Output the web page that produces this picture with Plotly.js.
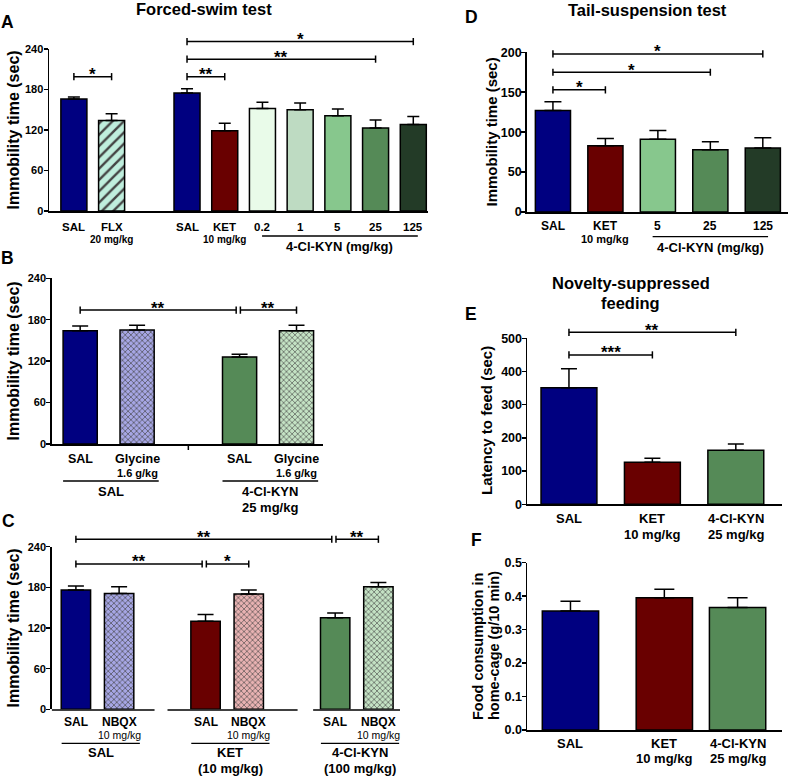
<!DOCTYPE html>
<html><head><meta charset="utf-8">
<script src="https://cdn.plot.ly/plotly-3.0.1.min.js"></script>
<style>html,body{margin:0;padding:0;background:#fff}#chart{width:792px;height:777px}</style>
</head><body><div id="chart"></div>
<script>
// ================= DATA =================
// Panel A – Forced-swim test
const catA  = ['SAL','FLX','SAL','KET','0.2','1','5','25','125'];
const doseA = ['','20 mg/kg','','10 mg/kg','','','','',''];
const meanA = [166,134,175,119,152,150,141,123,128];
const semA  = [3,10,6,11,9,10,10,12,12];
const grpA  = [['4-Cl-KYN (mg/kg)',4,8]];
const sigA  = [[0,1,199,'*'],[2,3,199,'**'],[2,7,225,'**'],[2,8,251,'*']];

// Panel B – Glycine
const catB  = ['SAL','Glycine','SAL','Glycine'];
const doseB = ['','1.6 g/kg','','1.6 g/kg'];
const meanB = [164,165,126,164];
const semB  = [7,7,4,8];
const grpB  = [['SAL',0,1],['4-Cl-KYN\n25 mg/kg',2,3]];
const sigB  = [[0,2,194,'**'],[2,3,194,'**']];

// Panel C – NBQX
const catC  = ['SAL','NBQX','SAL','NBQX','SAL','NBQX'];
const doseC = ['','10 mg/kg','','10 mg/kg','','10 mg/kg'];
const meanC = [176,171,130,170,135,181];
const semC  = [6,10,10,6,7,6];
const grpC  = [['SAL',0,1],['KET\n(10 mg/kg)',2,3],['4-Cl-KYN\n(100 mg/kg)',4,5]];
const sigC  = [[0,4,251,'**'],[4,5,251,'**'],[0,2,214.5,'**'],[2,3,214.5,'*']];

// Panel D – Tail-suspension test
const catD  = ['SAL','KET','5','25','125'];
const doseD = ['','10 mg/kg','','',''];
const meanD = [127,83,91,78,80];
const semD  = [11,9,11,10,13];
const grpD  = [['4-Cl-KYN (mg/kg)',2,4]];
const sigD  = [[0,1,153,'*'],[0,3,175,'*'],[0,4,198,'*']];

// Panel E – Novelty-suppressed feeding
const catE  = ['SAL','KET','4-Cl-KYN'];
const doseE = ['','10 mg/kg','25 mg/kg'];
const meanE = [351,127,163];
const semE  = [57,12,19];
const sigE  = [[0,1,450,'***'],[0,2,518,'**']];

// Panel F – Home-cage food consumption
const catF  = ['SAL','KET','4-Cl-KYN'];
const doseF = ['','10 mg/kg','25 mg/kg'];
const meanF = [0.356,0.395,0.366];
const semF  = [0.029,0.026,0.029];

// Titles
const titleA = ['Forced-swim test'];
const titleD = ['Tail-suspension test'];
const titleE = ['Novelty-suppressed','feeding'];
const yTitleImm  = ['Immobility time (sec)'];
const yTitleLat  = ['Latency to feed (sec)'];
const yTitleFood = ['Food consumption in','home-cage (g/10 min)'];

// ================= STYLE / LAYOUT =================
const W = 792, H = 777;
const px = x => x / W, py = y => 1 - y / H;
const FONT = 'Liberation Sans, Arial, Helvetica, sans-serif';
const NAVY = '#000080', MAROON = '#690000', GREEN = '#558a57';
const G02 = '#e9fbe9', G1 = '#bedbc2', G5 = '#87c78d', G125 = '#233b27';

// fills: base colour + optional overlay pattern
const hatchFLX = {color:'#bfeedd', shape:'/', fg:'#000000', size:8, sol:0.3};
const chkBlue  = {color:'#a6a6e4', shape:'x', fg:'#1e1e96', size:4, sol:0.3};
const chkRed   = {color:'#e8b2b2', shape:'x', fg:'#8b1a1a', size:4, sol:0.28};
const chkGreen = {color:'#c4e2c4', shape:'x', fg:'#3f7f46', size:4, sol:0.28};
const solid = c => ({color:c, shape:'', fg:c, size:8, sol:0.3});

function pat(list){
  return {
    color: list.map(d => d.color),
    shape: list.map(d => d.shape),
    fg: list.map(d => d.fg),
    size: list.map(d => d.size),
    sol: list.map(d => d.sol)
  };
}

const panels = [
  {cat:catA, dose:doseA, mean:meanA, sem:semA, grp:grpA, sig:sigA,
   pos:[0,1,3,4,5,6,7,8,9], xr:[-0.66,9.39], bw:0.69, box:[49,428,49,211], yr:[0,240], dt:60,
   tick:11, tso:-2, cap:6, main:[11.5,16], sub:[10,28.5,'bold'], ul:[25,-0.01,0.12], gl:[13,36,15],
   style:pat([solid(NAVY),hatchFLX,solid(NAVY),solid(MAROON),
              solid(G02),solid(G1),solid(G5),solid(GREEN),solid(G125)])},
  {cat:catB, dose:doseB, mean:meanB, sem:semB, grp:grpB, sig:sigB,
   pos:[0,1,2.8,3.8], xr:[-0.5,4.26], bw:0.6, box:[51.7,322.7,278.3,444], yr:[0,240], dt:60,
   tick:11, tso:-2, cap:8, main:[12.5,15], sub:[11,29,'bold'], ul:[37,-0.3,0.38], gl:[13,47.7,15.5],
   midTick:1.9,
   style:pat([solid(NAVY),chkBlue,solid(GREEN),chkGreen])},
  {cat:catC, dose:doseC, mean:meanC, sem:semC, grp:grpC, sig:sigC,
   pos:[0,1,3,4,6,7], xr:[-0.56,7.5], bw:0.68, box:[51.7,400,546.7,709.3], yr:[0,240], dt:60,
   tick:11, tso:-2, cap:8, main:[12,13], sub:[10.5,26,'normal'], ul:[34,-0.33,0.48], gl:[13,43.6,15.6],
   breaks:[[1.82,2.12],[5.13,5.49]],
   style:pat([solid(NAVY),chkBlue,solid(MAROON),chkRed,solid(GREEN),chkGreen])},
  {cat:catD, dose:doseD, mean:meanD, sem:semD, grp:grpD, sig:sigD,
   pos:[0,1,2,3,4], xr:[-0.5,4.48], bw:0.67, box:[526.7,788,52.3,212], yr:[0,200], dt:50,
   tick:12.5, tso:-3, cap:8.5, main:[12,14], sub:[11,27.5,'bold'], ul:[24.7,-0.1,0.1], gl:[13,35.3,15],
   style:pat([solid(NAVY),solid(MAROON),solid(G5),solid(GREEN),solid(G125)])},
  {cat:catE, dose:doseE, mean:meanE, sem:semE, grp:[], sig:sigE,
   pos:[0,1,2], xr:[-0.503,2.55], bw:0.67, box:[527,781.7,338.3,504.3], yr:[0,500], dt:100,
   tick:12.5, tso:-3, cap:8, main:[13,14], sub:[13,30,'bold'], ul:[0,0,0], gl:[13,0,15],
   style:pat([solid(NAVY),solid(MAROON),solid(GREEN)])},
  {cat:catF, dose:doseF, mean:meanF, sem:semF, grp:[], sig:[],
   pos:[0,1,1.78], xr:[-0.463,2.25], bw:0.6, box:[527,781.7,562.7,730], yr:[0,0.5], dt:0.1, fmt:'.1f',
   tick:12.5, tso:-3, cap:10, main:[13,13.3], sub:[13,28.8,'bold'], ul:[0,0,0], gl:[13,0,15],
   style:pat([solid(NAVY),solid(MAROON),solid(GREEN)])}
];

const data = [], shapes = [], annotations = [];
const layout = {
  width: W, height: H, margin: {l:0, r:0, t:0, b:0},
  paper_bgcolor: '#ffffff', plot_bgcolor: 'rgba(0,0,0,0)',
  showlegend: false, bargap: 0,
  font: {family: FONT, color: '#000'}
};

function txt(x, y, text, size, opt){
  annotations.push(Object.assign({
    x: x, y: y, xref: 'paper', yref: 'paper', text: text, showarrow: false,
    xanchor: 'center', yanchor: 'middle', borderpad: 0,
    font: {family: FONT, size: size, color: '#000', weight: 'bold'}
  }, opt || {}));
}
const LINE = {color:'#000', width:1.5};

panels.forEach((p, k) => {
  const n = k === 0 ? '' : String(k + 1);
  const xr = 'x' + n, yr = 'y' + n;
  const [L, R, T, B] = p.box;
  const yDom = [py(B), py(T)];
  layout['xaxis' + n] = {
    domain: [px(L), px(R)], range: p.xr, anchor: yr,
    showline: !p.breaks, linecolor: '#000', linewidth: 1.5,
    ticks: '', showticklabels: false, showgrid: false, zeroline: false, fixedrange: true
  };
  layout['yaxis' + n] = {
    domain: yDom, range: p.yr, anchor: xr,
    showline: true, linecolor: '#000', linewidth: 1.5,
    ticks: 'outside', ticklen: 4, tickwidth: 1.5, tickcolor: '#000',
    ticklabelstandoff: p.tso,
    tickmode: 'linear', tick0: 0, dtick: p.dt, tickformat: p.fmt || '',
    tickfont: {family: FONT, size: p.tick, color: '#000', weight: 'bold'},
    showgrid: false, zeroline: false, fixedrange: true
  };
  const yPaper = v => yDom[0] + (v - p.yr[0]) / (p.yr[1] - p.yr[0]) * (yDom[1] - yDom[0]);
  const unitPx = (R - L) / (p.xr[1] - p.xr[0]);

  data.push({
    type: 'bar', x: p.pos, y: p.mean, width: p.bw, xaxis: xr, yaxis: yr,
    marker: {
      color: p.style.color, line: {color: '#000', width: 1.5},
      pattern: {shape: p.style.shape, fgcolor: p.style.fg, fgopacity: 1,
                size: p.style.size, solidity: p.style.sol, fillmode: 'overlay'}
    },
    error_y: {type: 'data', symmetric: false, array: p.sem, arrayminus: p.sem.map(() => 0),
              color: '#000', thickness: 1.5, width: p.cap},
    hoverinfo: 'skip', showlegend: false
  });

  // broken x-axis line (panel C)
  if (p.breaks) {
    const segs = [];
    let start = p.xr[0];
    p.breaks.forEach(b => { segs.push([start, b[0]]); start = b[1]; });
    segs.push([start, p.xr[1]]);
    segs.forEach(s => shapes.push({type:'line', xref:xr, yref:'paper', x0:s[0], x1:s[1],
      y0: py(B + 0.75), y1: py(B + 0.75), line: LINE}));
  }
  if (p.midTick !== undefined) {
    shapes.push({type:'line', xref:xr, yref:'paper', x0:p.midTick, x1:p.midTick,
      y0: py(B), y1: py(B + 6), line: LINE});
  }

  // category labels
  p.cat.forEach((c, i) => {
    annotations.push({x: p.pos[i], y: py(B + p.main[1]), xref: xr, yref: 'paper', text: c,
      showarrow: false, xanchor: 'center', yanchor: 'middle', borderpad: 0,
      font: {family: FONT, size: p.main[0], color: '#000', weight: 'bold'}});
    if (p.dose[i]) annotations.push({x: p.pos[i], y: py(B + p.sub[1]), xref: xr, yref: 'paper',
      text: p.dose[i], showarrow: false, xanchor: 'center', yanchor: 'middle', borderpad: 0,
      font: {family: FONT, size: p.sub[0], color: '#000', weight: p.sub[2]}});
  });

  // group underline + label
  p.grp.forEach(([lab, a, b]) => {
    const x0 = p.pos[a] + p.ul[1], x1 = p.pos[b] + p.ul[2];
    shapes.push({type:'line', xref:xr, yref:'paper', x0:x0, x1:x1,
      y0: py(B + p.ul[0]), y1: py(B + p.ul[0]), line: {color:'#000', width:1.3}});
    lab.split('\n').forEach((line, j) => {
      annotations.push({x: (x0 + x1) / 2, y: py(B + p.gl[1] + j * p.gl[2]), xref: xr, yref: 'paper',
        text: line, showarrow: false, xanchor: 'center', yanchor: 'middle', borderpad: 0,
        font: {family: FONT, size: p.gl[0], color: '#000', weight: 'bold'}});
    });
  });

  // significance brackets
  p.sig.forEach((s) => {
    const [i, j, v, lab] = s;
    let x0 = p.pos[i], x1 = p.pos[j];
    if (p.sig.some(o => o !== s && o[0] === j && o[2] === v)) x1 -= 3.4 / unitPx;
    if (p.sig.some(o => o !== s && o[1] === i && o[2] === v)) x0 += 0.8 / unitPx;
    const yp = yPaper(v), c = 3.6 / H;
    shapes.push({type:'line', xref:xr, yref:'paper', x0:x0, x1:x1, y0:yp, y1:yp, line: LINE});
    shapes.push({type:'line', xref:xr, yref:'paper', x0:x0, x1:x0, y0:yp - c, y1:yp + c, line: LINE});
    shapes.push({type:'line', xref:xr, yref:'paper', x0:x1, x1:x1, y0:yp - c, y1:yp + c, line: LINE});
    annotations.push({x: (x0 + x1) / 2, y: yp, xref: xr, yref: 'paper', text: lab,
      showarrow: false, xanchor: 'center', yanchor: 'middle', yshift: 2, borderpad: 0,
      font: {family: FONT, size: 17, color: '#000', weight: 'bold'}});
  });
});

// panel titles
txt(px(204), py(8.5), titleA[0], 16.5);
txt(px(647), py(10.5), titleD[0], 16.5);
txt(px(630.7), py(282.7), titleE[0], 16.5);
txt(px(630.7), py(302.7), titleE[1], 16.5);

// panel letters
[['A',7.5,22],['B',7.5,257.5],['C',8,521],['D',471,17.5],['E',471,314],['F',476.5,539.5]]
  .forEach(([l, x, y]) => txt(px(x), py(y), l, 17.5));

// y-axis titles
txt(px(12.5), py(130), yTitleImm[0], 16, {textangle: -90});
txt(px(12.5), py(361), yTitleImm[0], 16, {textangle: -90});
txt(px(12.5), py(628), yTitleImm[0], 16, {textangle: -90});
txt(px(490.5), py(132), yTitleImm[0], 15, {textangle: -90});
txt(px(487), py(421), yTitleLat[0], 15, {textangle: -90});
txt(px(478), py(646), yTitleFood[0], 14.5, {textangle: -90});
txt(px(494), py(646), yTitleFood[1], 14.5, {textangle: -90});

layout.shapes = shapes;
layout.annotations = annotations;

Plotly.newPlot('chart', data, layout, {staticPlot: true, displayModeBar: false});
</script>
</body></html>
